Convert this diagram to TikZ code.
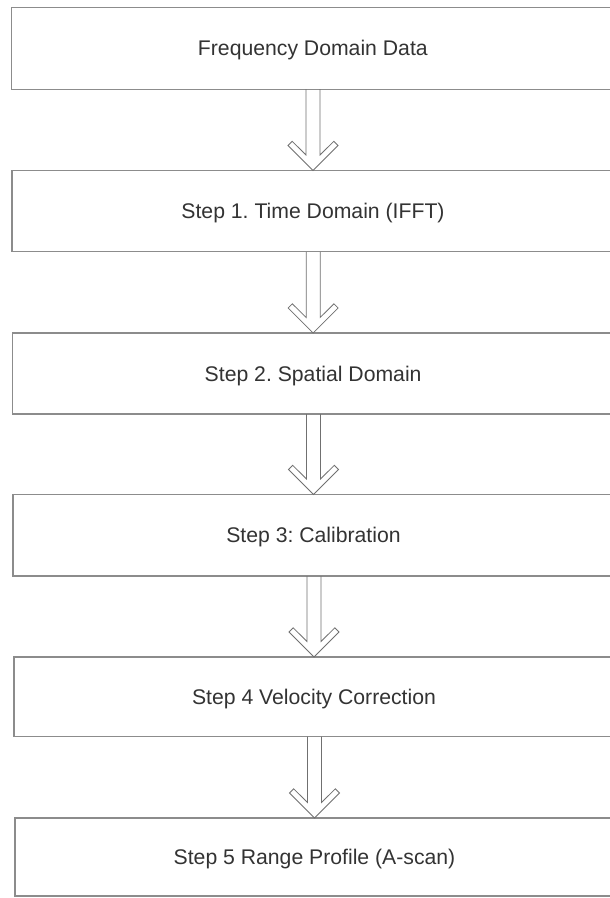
\documentclass[tikz,border=0pt]{standalone}
\usepackage{fontspec}
\setmainfont{Liberation Sans}
\usetikzlibrary{calc}
\definecolor{boxline}{HTML}{8C8C8C}
\definecolor{arrowline}{HTML}{707070}
\definecolor{txt}{HTML}{333333}
\newcommand{\flowarrow}[2]{%
  \draw[blockarrow] ($(#2.north |- #1.south)+(-7,0)$) -- ($(#2.north)+(-7,-15.5)$)
    -- ($(#2.north)+(-20.8,-29.2)$) -- ($(#2.north)+(-25,-25)$) -- (#2.north)
    -- ($(#2.north)+(25,-25)$) -- ($(#2.north)+(20.8,-29.2)$)
    -- ($(#2.north)+(7,-15.5)$) -- ($(#2.north |- #1.south)+(7,0)$);}
\frenchspacing
\begin{document}
\begin{tikzpicture}[x=1pt,y=-1pt,
  stepbox/.style={draw=boxline, line width=1.2pt, rectangle, inner sep=0pt, outer sep=0pt,
    text=txt, font=\fontsize{21.2}{25}\selectfont\frenchspacing, text height=15pt, text depth=0pt},
  blockarrow/.style={draw=arrowline, line width=0.8pt, line join=miter}]
\useasboundingbox (0,0) rectangle (610,898);
\fill[white] (0,0) rectangle (610,898);
\clip (0,0) rectangle (610,898);
\node[stepbox, minimum width=602.3pt, minimum height=82pt] (b1) at (312.85,48.2) {Frequency Domain Data};
\node[stepbox, minimum width=602pt, minimum height=81.3pt] (b2) at (313,211.15) {Step 1. Time Domain (IFFT)};
\node[stepbox, minimum width=601.7pt, minimum height=81pt] (b3) at (313.15,373.5) {Step 2. Spatial Domain};
\node[stepbox, minimum width=601pt, minimum height=81.5pt] (b4) at (313.5,535.25) {Step 3: Calibration};
\node[stepbox, minimum width=600pt, minimum height=79.5pt] (b5) at (314,696.75) {Step 4 Velocity Correction};
\node[stepbox, minimum width=599pt, minimum height=78pt] (b6) at (314.5,857) {Step 5 Range Profile (A-scan)};
\flowarrow{b1}{b2}
\flowarrow{b2}{b3}
\flowarrow{b3}{b4}
\flowarrow{b4}{b5}
\flowarrow{b5}{b6}
\end{tikzpicture}
\end{document}
